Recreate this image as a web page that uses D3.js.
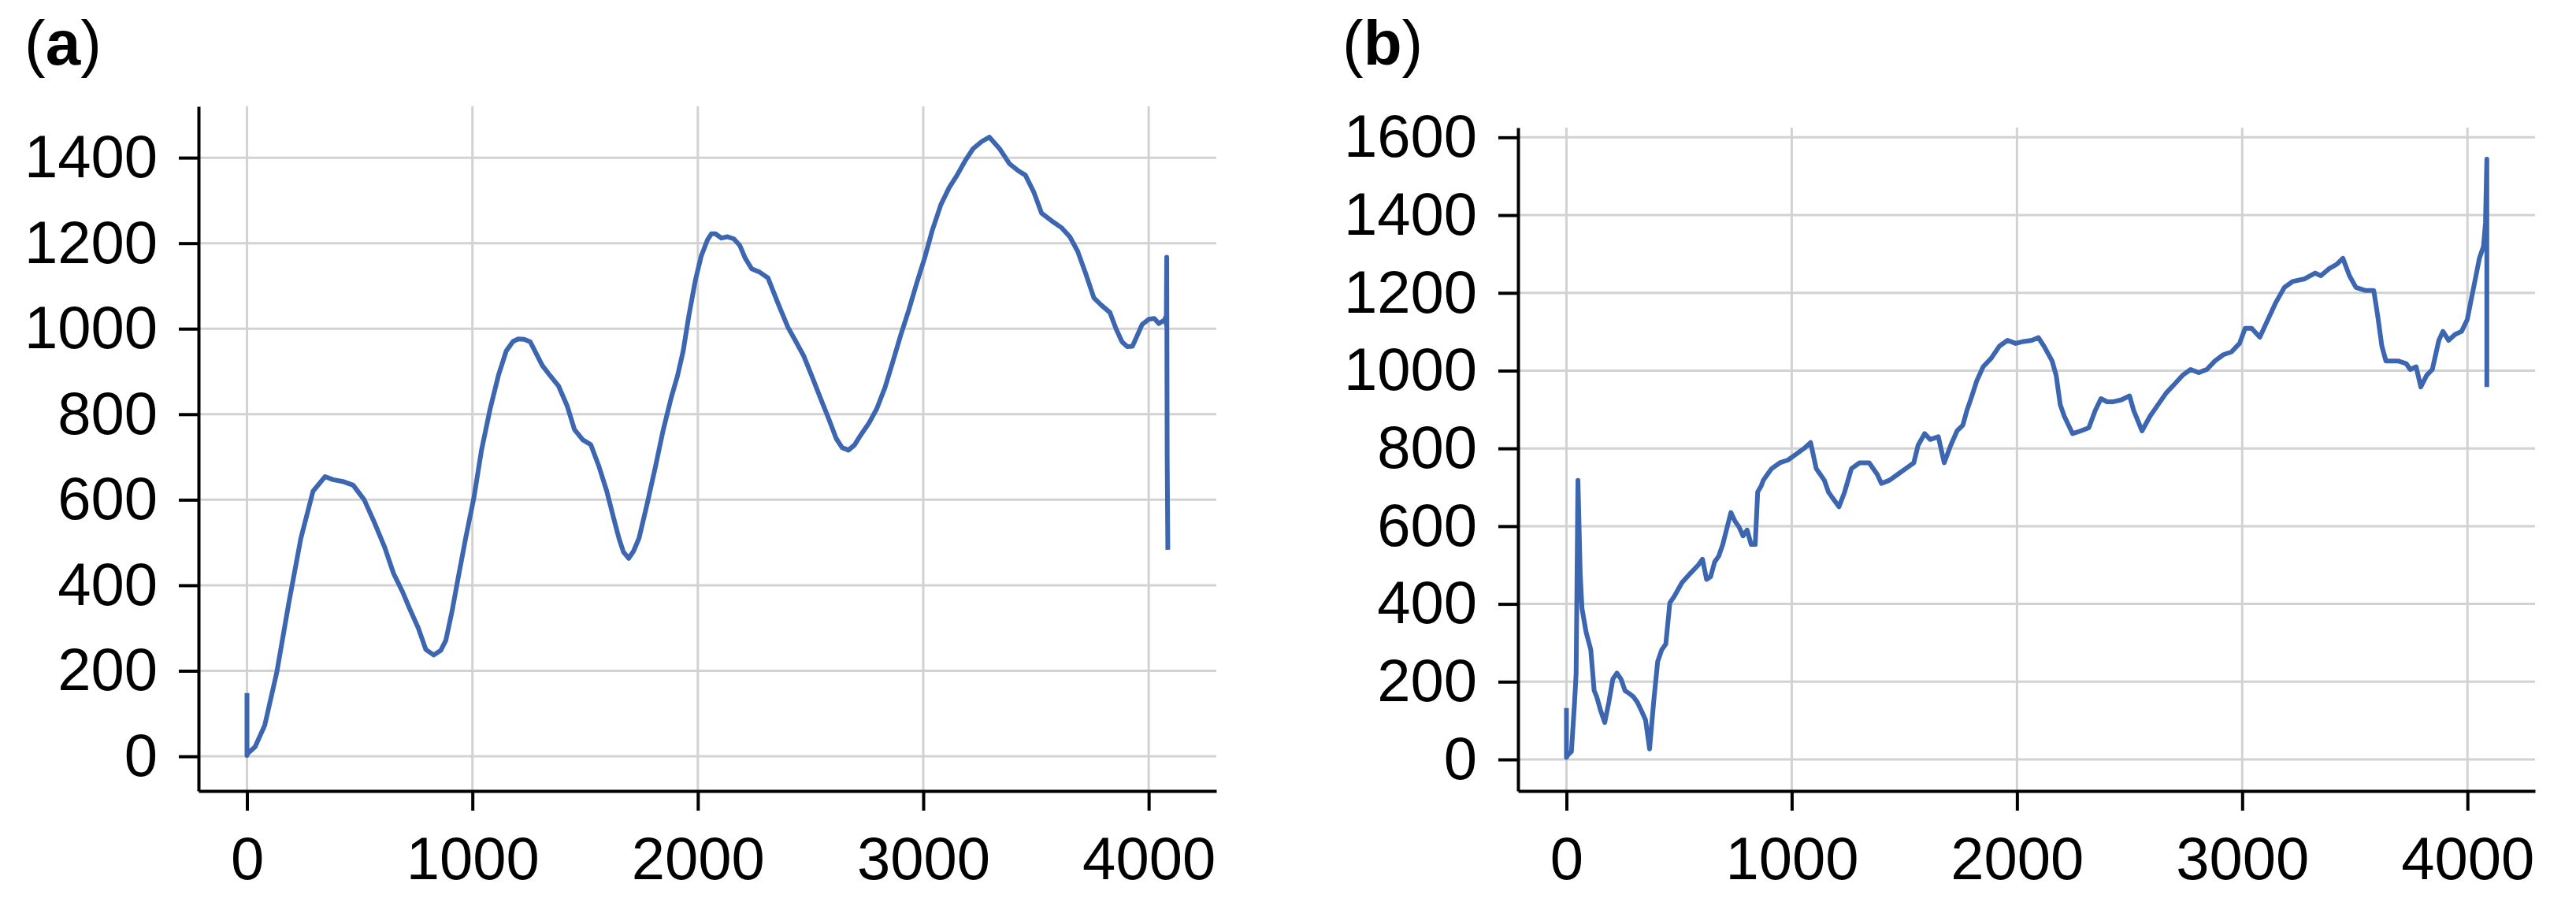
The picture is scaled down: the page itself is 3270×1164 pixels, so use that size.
<!DOCTYPE html>
<html lang="en">
<head>
<meta charset="UTF-8">
<title>Two panels</title>
<script src="https://cdn.jsdelivr.net/npm/d3@7"></script>
<style>
  body { margin: 0; background: #fff; }
  svg { display: block; font-family: "Liberation Sans", Arial, sans-serif; }
</style>
</head>
<body>
<svg></svg>
<script>
var width = 3270, height = 1164;

// panel (a) series
var xA = [0, 0, 2, 36, 79, 132, 186, 239, 293, 346, 382, 430, 471, 520, 561, 610, 650, 690, 721, 760, 793, 828, 860, 882, 910, 936, 970, 1007,
  1040, 1078, 1115, 1150, 1180, 1203, 1230, 1257, 1285, 1310, 1345, 1382, 1420, 1453, 1490, 1525, 1560, 1596, 1625, 1650, 1670, 1693, 1715, 1739,
  1775, 1811, 1845, 1882, 1910, 1935, 1960, 1989, 2015, 2043, 2060, 2078, 2105, 2132, 2160, 2186, 2210, 2239, 2275, 2311, 2355, 2400, 2435, 2471,
  2505, 2543, 2580, 2614, 2640, 2668, 2695, 2721, 2760, 2793, 2830, 2864, 2900, 2936, 2970, 3007, 3040, 3078, 3115, 3150, 3185, 3221, 3260, 3293,
  3340, 3382, 3420, 3453, 3490, 3525, 3570, 3614, 3650, 3685, 3720, 3757, 3790, 3828, 3855, 3882, 3905, 3928, 3950, 3971, 4000, 4025, 4045,
  4060, 4070, 4076, 4078, 4080, 4082, 4085];
var yA = [148, 2, 6, 22, 73, 196, 360, 510, 620, 654, 647, 642, 634, 600, 552, 490, 428, 385, 346, 300, 250, 237, 248, 271, 340, 415, 510, 606,
  715, 811, 890, 948, 970, 976, 975, 969, 940, 914, 890, 866, 820, 764, 740, 729, 680, 620, 560, 510, 478, 463, 480, 510,
  590, 675, 760, 839, 890, 948, 1030, 1113, 1170, 1208, 1222, 1222, 1212, 1215, 1210, 1195, 1165, 1140, 1132, 1119, 1060, 1003, 970, 935,
  890, 839, 790, 743, 722, 716, 728, 750, 780, 812, 862, 921, 985, 1044, 1105, 1167, 1230, 1290, 1330, 1359, 1392, 1421, 1438, 1448,
  1420, 1386, 1370, 1359, 1320, 1270, 1252, 1236, 1215, 1181, 1130, 1072, 1055, 1038, 1000, 969, 958, 959, 985, 1010, 1022, 1024, 1012,
  1017, 1020, 1028, 1010, 1167, 700, 483];

// panel (b) series
var xB = [0, 0, 7, 22, 36, 43, 51, 61, 69, 87, 108, 123, 134, 152, 170, 188, 206, 224, 242, 260, 278, 296, 315, 333, 351, 369, 387, 405,
  423, 441, 459, 477, 513, 549, 585, 604, 622, 640, 658, 676, 694, 730, 748, 766, 784, 802, 820, 838, 849, 864, 874, 892, 911, 947, 983,
  1019, 1055, 1084, 1109, 1127, 1145, 1163, 1181, 1210, 1235, 1265, 1301, 1344, 1380, 1398, 1434, 1470, 1506, 1542, 1561, 1590, 1615, 1651,
  1677, 1706, 1734, 1760, 1778, 1796, 1821, 1850, 1886, 1922, 1958, 1994, 2030, 2066, 2095, 2120, 2156, 2174, 2192, 2210, 2247, 2283, 2319,
  2348, 2373, 2400, 2428, 2464, 2500, 2518, 2555, 2591, 2627, 2663, 2699, 2735, 2771, 2807, 2843, 2879, 2916, 2952, 2988, 3013, 3042, 3078,
  3114, 3150, 3187, 3223, 3277, 3324, 3349, 3385, 3421, 3447, 3476, 3505, 3548, 3584, 3602, 3620, 3638, 3692, 3728, 3746, 3772, 3793, 3819,
  3844, 3873, 3891, 3916, 3945, 3974, 3999, 4017, 4035, 4053, 4071, 4080, 4086, 4086];
var yB = [132, 5, 12, 20, 147, 222, 718, 478, 388, 328, 282, 177, 162, 125, 95, 147, 207, 222, 207, 177, 170, 162, 147, 125, 102, 27, 147, 252,
  282, 297, 403, 418, 455, 478, 500, 515, 463, 470, 508, 523, 553, 635, 613, 598, 575, 590, 553, 553, 688, 703, 718, 733, 748, 763, 770,
  785, 800, 815, 748, 733, 718, 688, 673, 650, 688, 748, 763, 763, 733, 710, 718, 733, 748, 763, 808, 838, 823, 830,
  763, 808, 845, 860, 898, 928, 973, 1010, 1032, 1063, 1078, 1070, 1075, 1078, 1085, 1063, 1025, 988, 913, 883, 838, 845, 853,
  898, 928, 920, 920, 925, 935, 898, 845, 883, 913, 943, 965, 988, 1003, 995, 1003, 1025, 1041, 1048, 1070, 1109, 1109, 1086,
  1131, 1176, 1214, 1229, 1236, 1251, 1244, 1262, 1274, 1289, 1244, 1214, 1206, 1206, 1139, 1063, 1025, 1025, 1018, 1003, 1010, 958, 988,
  1003, 1078, 1101, 1078, 1093, 1101, 1131, 1184, 1236, 1289, 1319, 1380, 1544, 958];

var xTicks = [0, 1000, 2000, 3000, 4000];
var yTicksA = [0, 200, 400, 600, 800, 1000, 1200, 1400];
var yTicksB = [0, 200, 400, 600, 800, 1000, 1200, 1400, 1600];

var lineColor = "#3d66b0";
var gridColor = "#d2d2d2";

var svg = d3.select("svg")
    .attr("width", width)
    .attr("height", height);

function drawPanel(opt) {
    var x = d3.scaleLinear().domain([-215, 4300]).range([opt.left, opt.right]);
    var y = d3.scaleLinear().domain(opt.yDomain).range([opt.bottom, opt.top]);
    var g = svg.append("g");

    // grid
    g.selectAll(".vgrid").data(xTicks).enter().append("line")
        .attr("x1", d => x(d)).attr("x2", d => x(d))
        .attr("y1", opt.top).attr("y2", opt.bottom)
        .attr("stroke", gridColor).attr("stroke-width", 3);
    g.selectAll(".hgrid").data(opt.yTicks).enter().append("line")
        .attr("x1", opt.left).attr("x2", opt.right)
        .attr("y1", d => y(d)).attr("y2", d => y(d))
        .attr("stroke", gridColor).attr("stroke-width", 3);

    // series
    var pts = opt.xs.map((v, i) => [v, opt.ys[i]]);
    var line = d3.line().x(d => x(d[0])).y(d => y(d[1]));
    g.append("path")
        .attr("d", line(pts))
        .attr("fill", "none")
        .attr("stroke", lineColor)
        .attr("stroke-width", 6)
        .attr("stroke-linejoin", "round");

    // axes
    var fmt = d3.format("d");
    var ax = g.append("g")
        .attr("transform", "translate(0," + opt.bottom + ")")
        .call(d3.axisBottom(x).tickValues(xTicks).tickFormat(fmt).tickSize(25).tickSizeOuter(0).tickPadding(33));
    var ay = g.append("g")
        .attr("transform", "translate(" + opt.left + ",0)")
        .call(d3.axisLeft(y).tickValues(opt.yTicks).tickFormat(fmt).tickSize(25).tickSizeOuter(0).tickPadding(27));
    [ax, ay].forEach(function(a) {
        a.select(".domain").attr("stroke", "#000").attr("stroke-width", 4);
        a.selectAll(".tick line").attr("stroke", "#000").attr("stroke-width", 4);
        a.selectAll(".tick text")
            .attr("fill", "#000")
            .style("font-size", "76px")
            .style("font-family", "'Liberation Sans', Arial, sans-serif");
    });

    // panel label
    var t = svg.append("text")
        .attr("x", opt.labelX).attr("y", 82)
        .style("font-size", "80px")
        .attr("fill", "#000");
    t.append("tspan").text("(");
    t.append("tspan").attr("font-weight", "bold").text(opt.label);
    t.append("tspan").text(")");
}

drawPanel({ left: 252, right: 1544, top: 135, bottom: 1004, yDomain: [-81, 1520],
            yTicks: yTicksA, xs: xA, ys: yA, label: "a", labelX: 31 });
drawPanel({ left: 1927, right: 3218, top: 162, bottom: 1004, yDomain: [-81, 1625],
            yTicks: yTicksB, xs: xB, ys: yB, label: "b", labelX: 1704 });
</script>
</body>
</html>
